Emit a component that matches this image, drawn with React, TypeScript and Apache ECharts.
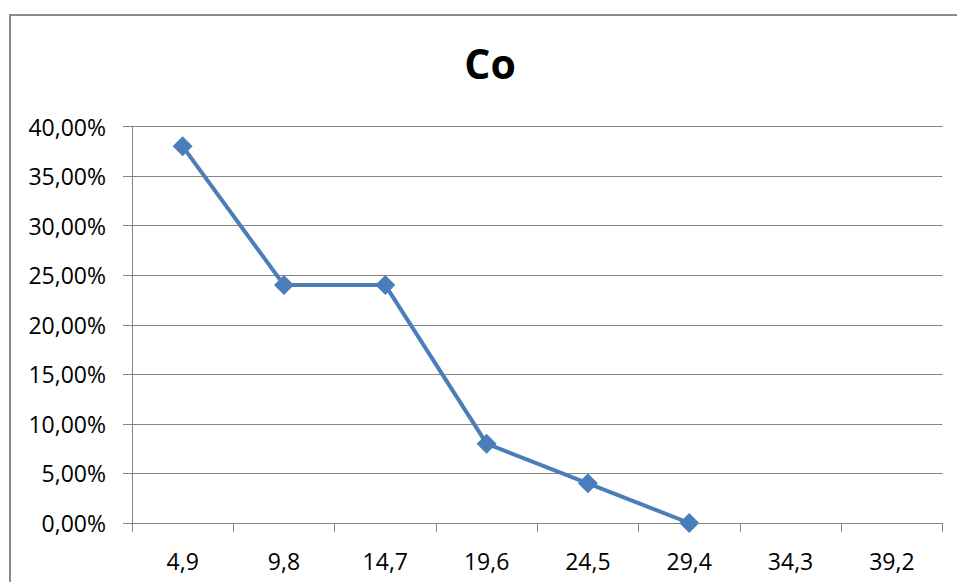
import React, { useEffect, useRef } from "react";
import * as echarts from "echarts";

const categories = ["4,9", "9,8", "14,7", "19,6", "24,5", "29,4", "34,3", "39,2"];
const coValues: (number | null)[] = [0.38, 0.24, 0.24, 0.08, 0.04, 0.0, null, null];
const chartTitle = "Co";

export default function App() {
  const ref = useRef<HTMLDivElement>(null);
  useEffect(() => {
    if (!ref.current) return;
    const chart = echarts.init(ref.current, undefined, { renderer: "svg" });
    const font = "'Open Sans', 'Noto Sans', sans-serif";
    chart.setOption({
      animation: false,
      backgroundColor: "#ffffff",
      title: {
        text: chartTitle,
        left: 485,
        top: 37,
        textAlign: "center",
        textStyle: { fontSize: 41, fontWeight: "bold", color: "#000", fontFamily: font },
      },
      graphic: [
        {
          type: "rect",
          shape: { x: 10, y: 15, width: 1000, height: 700 },
          style: { fill: "none", stroke: "#8a8a8a", lineWidth: 2 },
          silent: true,
        },
      ],
      grid: { left: 132, right: 14.5, top: 126.5, bottom: 59, containLabel: false },
      xAxis: {
        type: "category",
        data: categories,
        boundaryGap: true,
        axisLine: { lineStyle: { color: "#868686", width: 1 } },
        axisTick: { show: true, length: 9, alignWithLabel: false, lineStyle: { color: "#868686" } },
        axisLabel: { color: "#000", fontSize: 23, fontFamily: font, margin: 26 },
        splitLine: { show: false },
      },
      yAxis: {
        type: "value",
        min: 0,
        max: 0.4,
        interval: 0.05,
        axisLine: { show: true, lineStyle: { color: "#868686", width: 1 } },
        axisTick: { show: true, length: 9, lineStyle: { color: "#868686" } },
        axisLabel: {
          color: "#000",
          fontSize: 23,
          fontFamily: font,
          margin: 26,
          formatter: (v: number) => (v * 100).toFixed(2).replace(".", ",") + "%",
        },
        splitLine: { show: true, lineStyle: { color: "#868686", width: 1 } },
      },
      series: [
        {
          type: "line",
          data: coValues,
          connectNulls: false,
          symbol: "diamond",
          symbolSize: 20,
          lineStyle: { color: "#4a7ebb", width: 4 },
          itemStyle: { color: "#4a7ebb" },
        },
      ],
    });
    return () => chart.dispose();
  }, []);
  return <div ref={ref} style={{ width: 957, height: 582, position: "absolute", left: 0, top: 0 }} />;
}
